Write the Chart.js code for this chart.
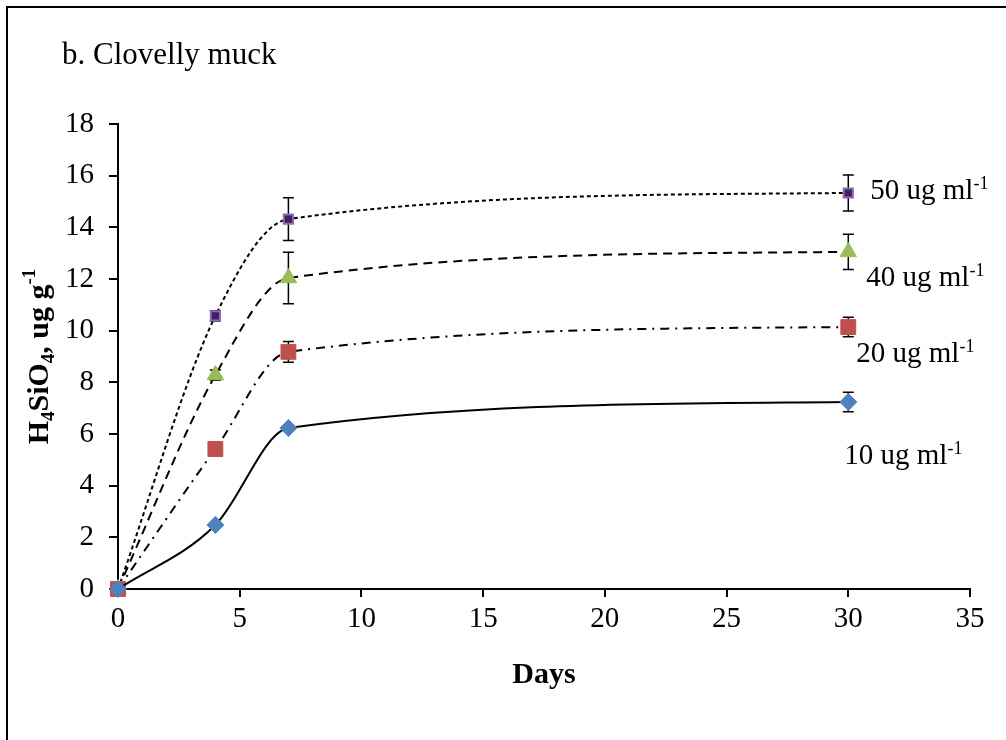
<!DOCTYPE html>
<html>
<head>
<meta charset="utf-8">
<script src="https://cdn.jsdelivr.net/npm/chart.js@4.4.0/dist/chart.umd.min.js"></script>
<style>
html,body{margin:0;padding:0;background:#fff;}
#wrap{width:1006px;height:740px;position:relative;}
canvas{display:block;}
</style>
</head>
<body>
<div id="wrap"><canvas id="c" width="1006" height="740"></canvas></div>
<script>
// ---- data ----
const days = [0, 4, 7, 30];
const s10 = [0, 2.48, 6.23, 7.24];
const s20 = [0, 5.42, 9.18, 10.14];
const s40 = [0, 8.28, 12.04, 13.05];
const s50 = [0, 10.57, 14.32, 15.33];
const e10 = [0, 0, 0, 0.38];
const e20 = [0, 0, 0.4, 0.38];
const e40 = [0, 0.2, 1.0, 0.68];
const e50 = [0, 0.2, 0.83, 0.7];
const seriesNames = ['10 ug ml', '20 ug ml', '40 ug ml', '50 ug ml'];
const seriesSup = '-1';
const chartTitle = 'b. Clovelly muck';
const xTitle = 'Days';
const yTitleParts = [['H', 'n'], ['4', 'sub'], ['SiO', 'n'], ['4', 'sub'], [', ug g', 'n'], ['-1', 'sup']];

const SERIF = '"Liberation Serif", "Times New Roman", serif';
const pts = (ys) => days.map((d, i) => ({x: d, y: ys[i]}));
const errs = [e10, e20, e40, e50];

const frame = {
  id: 'frame',
  beforeDraw(chart) {
    const ctx = chart.ctx;
    ctx.save();
    ctx.fillStyle = '#fff';
    ctx.fillRect(0, 0, chart.width, chart.height);
    ctx.strokeStyle = '#000';
    ctx.lineWidth = 2;
    ctx.beginPath();
    ctx.moveTo(7, 740);
    ctx.lineTo(7, 7);
    ctx.lineTo(1006, 7);
    ctx.stroke();
    ctx.restore();
  }
};

const errorBars = {
  id: 'errorBars',
  beforeDatasetsDraw(chart) {
    const ctx = chart.ctx;
    const xs = chart.scales.x, ys = chart.scales.y;
    ctx.save();
    ctx.strokeStyle = '#000';
    ctx.lineWidth = 1.5;
    chart.data.datasets.forEach((ds, di) => {
      const e = errs[di];
      ds.data.forEach((p, i) => {
        if (!e[i]) return;
        const px = xs.getPixelForValue(p.x);
        const top = ys.getPixelForValue(p.y + e[i]);
        const bot = ys.getPixelForValue(p.y - e[i]);
        ctx.beginPath();
        ctx.moveTo(px, top); ctx.lineTo(px, bot);
        ctx.moveTo(px - 5.5, top); ctx.lineTo(px + 5.5, top);
        ctx.moveTo(px - 5.5, bot); ctx.lineTo(px + 5.5, bot);
        ctx.stroke();
      });
    });
    ctx.restore();
  }
};

const texts = {
  id: 'texts',
  afterDraw(chart) {
    const ctx = chart.ctx;
    const xs = chart.scales.x, ys = chart.scales.y;
    const area = chart.chartArea;
    ctx.save();
    ctx.fillStyle = '#000';
    ctx.textBaseline = 'alphabetic';
    ctx.textAlign = 'left';
    // title
    ctx.font = '31px ' + SERIF;
    ctx.fillText(chartTitle, 62, 64);
    // x title
    ctx.font = 'bold 30px ' + SERIF;
    ctx.textAlign = 'center';
    ctx.fillText(xTitle, (area.left + area.right) / 2, 683);
    ctx.textAlign = 'left';
    // y title, rotated
    const big = 'bold 30px ' + SERIF, small = 'bold 19px ' + SERIF;
    let total = 0;
    yTitleParts.forEach(([t, k]) => { ctx.font = k === 'n' ? big : small; total += ctx.measureText(t).width; });
    ctx.translate(48, (area.top + area.bottom) / 2 + total / 2);
    ctx.rotate(-Math.PI / 2);
    let cx = 0;
    yTitleParts.forEach(([t, k]) => {
      ctx.font = k === 'n' ? big : small;
      const dy = k === 'sub' ? 6 : (k === 'sup' ? -13 : 0);
      ctx.fillText(t, cx, dy);
      cx += ctx.measureText(t).width;
    });
    ctx.setTransform(1, 0, 0, 1, 0, 0);
    // series labels next to last points
    const offs = [[-4, 62], [8, 35], [18, 34], [22, 6]];
    chart.data.datasets.forEach((ds, di) => {
      const last = ds.data[ds.data.length - 1];
      const px = xs.getPixelForValue(last.x) + offs[di][0];
      const py = ys.getPixelForValue(last.y) + offs[di][1];
      ctx.font = '29px ' + SERIF;
      ctx.fillText(seriesNames[di], px, py);
      const w = ctx.measureText(seriesNames[di]).width;
      ctx.font = '18px ' + SERIF;
      ctx.fillText(seriesSup, px + w, py - 10);
    });
    ctx.restore();
  }
};

const lineCommon = {borderColor: '#000', borderWidth: 2, cubicInterpolationMode: 'monotone'};

new Chart(document.getElementById('c'), {
  type: 'line',
  data: {
    datasets: [
      Object.assign({label: seriesNames[0], data: pts(s10),
       pointStyle: 'rectRot', pointRadius: 8.5, pointBackgroundColor: '#4F81BD', pointBorderColor: '#4F81BD', pointBorderWidth: 1}, lineCommon),
      Object.assign({label: seriesNames[1], data: pts(s20), borderDash: [9, 6, 2, 6],
       pointStyle: 'rect', pointRadius: 10.5, pointBackgroundColor: '#C0504D', pointBorderColor: '#C0504D', pointBorderWidth: 1}, lineCommon),
      Object.assign({label: seriesNames[2], data: pts(s40), borderDash: [9, 6],
       pointStyle: 'triangle', pointRadius: 9.5, pointBackgroundColor: '#9BBB59', pointBorderColor: '#9BBB59', pointBorderWidth: 1}, lineCommon),
      Object.assign({label: seriesNames[3], data: pts(s50), borderDash: [4, 3],
       pointStyle: 'rect', pointRadius: 6.5, pointBackgroundColor: '#40205F', pointBorderColor: '#8C6CB2', pointBorderWidth: 2}, lineCommon)
    ]
  },
  options: {
    responsive: false,
    animation: false,
    clip: false,
    layout: {padding: {left: 58, right: 36, top: 124, bottom: 101}},
    plugins: {legend: {display: false}, tooltip: {enabled: false}, title: {display: false}},
    scales: {
      x: {
        type: 'linear', min: 0, max: 35,
        ticks: {stepSize: 5, color: '#000', font: {family: SERIF, size: 29}, padding: 5, maxRotation: 0},
        grid: {drawOnChartArea: false, drawTicks: true, tickLength: 8, color: '#000', lineWidth: 2},
        border: {color: '#000', width: 2},
        afterFit: (s) => { s.height = 50; }
      },
      y: {
        type: 'linear', min: 0, max: 18,
        ticks: {stepSize: 2, color: '#000', font: {family: SERIF, size: 29}, padding: 15},
        grid: {drawOnChartArea: false, drawTicks: true, tickLength: 9, color: '#000', lineWidth: 2},
        border: {color: '#000', width: 2},
        afterFit: (s) => { s.width = 60; }
      }
    }
  },
  plugins: [frame, errorBars, texts]
});
</script>
</body>
</html>
